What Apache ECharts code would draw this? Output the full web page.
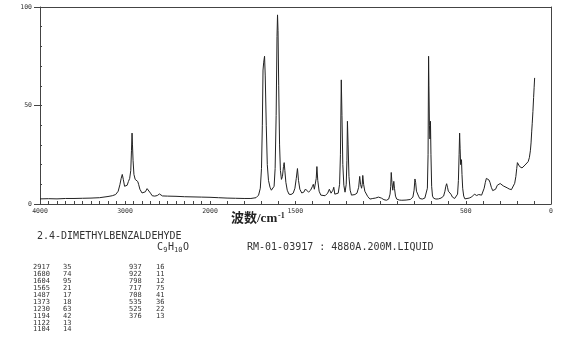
<!DOCTYPE html>
<html>
<head>
<meta charset="utf-8">
<script src="https://cdn.jsdelivr.net/npm/echarts@6/dist/echarts.min.js"></script>
<style>
html,body{margin:0;padding:0;background:#fff;}
#chart{width:570px;height:346px;}
</style>
</head>
<body>
<div id="chart"></div>
<script>
// ---- Data (Raman spectrum) ----
const specWn = [
  4000,3900,3800,3700,3600,3500,3400,3300,3200,3150,3110,3080,3060,3045,3032,3020,3005,2990,2975,2960,
  2945,2932,2924,2917,2912,2905,2895,2880,2860,2850,2840,2825,2800,2780,2760,2740,2730,2720,2700,2680,
  2650,2620,2595,2580,2560,2500,2400,2300,2200,2100,2000,
  1950,1900,1850,1800,1760,1730,1715,1705,1698,1693,1689,1685,1680,1676,1670,1664,1657,1648,1640,1632,
  1624,1618,1612,1607,1604,1601,1597,1592,1587,1581,1575,1569,1565,1561,1555,1547,1537,1525,1512,1502,
  1494,1487,1481,1473,1462,1450,1440,1432,1422,1410,1400,1394,1388,1382,1377,1373,1368,1360,1350,1340,
  1325,1310,1300,1296,1290,1285,1279,1274,1268,1258,1248,1240,1235,1230,1226,1221,1215,1208,1201,1197,
  1194,1190,1185,1178,1170,1160,1150,1138,1128,1122,1117,1111,1107,1104,1099,1092,1085,1075,1062,1045,
  1030,1012,995,980,965,952,944,940,937,933,928,922,918,912,905,890,875,850,825,810,
  803,798,794,789,783,777,770,755,740,730,725,721,718,716,713,710,707,704,700,695,
  688,675,660,645,630,622,617,612,607,602,597,592,587,578,565,555,548,543,539,536,
  533,530,527,525,522,518,512,505,495,480,465,455,449,445,441,436,430,424,418,413,
  407,400,392,385,379,375,370,364,358,350,342,335,325,315,305,298,290,280,270,257,
  245,232,222,213,206,201,197,194,190,184,178,170,162,152,142,134,127,121,117,113,
  110,106,102,99,96
];
const specInt = [
  2.6,2.7,2.6,2.8,2.8,2.9,3.0,3.2,3.8,4.2,4.8,6.5,9.8,13,15,12.5,9,8.1,9.5,11.4,
  13,17,27,36,30,22,15,12.5,11.5,11.4,10,7.5,5.6,5.2,6.2,7.8,8.2,7.5,5.5,4.2,
  4.0,4.3,5.1,5,4.1,4.0,3.9,3.7,3.6,3.5,3.4,
  3.2,3.0,2.9,2.8,2.8,3.2,4.5,8,18,40,68,72,75,65,40,20,12,8.5,7,6.5,
  9,18,45,85,96,88,60,30,17,12.5,14,19,21,17,11,7,5,4.8,5.5,8,
  13,18,12,7.5,5.6,6,7.6,6.8,6,7,8.8,10,7.5,8,13,19,12,6.5,4.5,4,
  4.2,5.5,7.5,8.5,5.5,4.5,7,8.5,5,4,5.5,10,25,63,45,20,9.5,6,10,22,
  42,30,14,7,4.5,4.5,4.8,5.5,8.5,14,10,8,10,14.5,10,6.5,6,3.8,2.5,2.8,
  3.0,3.5,3.0,2.2,1.9,2.5,5,9,16,11,7,11.5,8,4,2.5,2.0,1.9,2.0,2.3,3.5,
  7,12.7,11,6.5,6,4,2.8,2.5,3,3.9,8,25,75,60,40,33,42,25,9,4,
  2.9,2.5,2.6,3,4,6.5,9,10.3,8.5,6.5,6,6.3,5,3.5,2.8,3,5,12,25,36,
  28,20,21,22.5,15,8,4,2.6,2.5,3,3.6,4,5,5.8,5,4.3,4.2,4.8,5.3,5,
  4.5,5.5,8,11,13,13.8,12,12.2,11,8.5,6.8,6.5,7.5,9.5,10.4,10.4,10,9.2,8.6,8.2,
  7.6,7.3,8,10.5,14,18,21,21.6,20.8,19,18.3,18.3,18.8,19.8,20.6,21.5,23.5,27,31,37,
  41,47,54,59,64
];

// axis tick labels
const xLabelsHigh = [4000, 3000, 2000];
const xLabelsLow = [1500, 500, 0];
const yLabels = [0, 50, 100];

// peak table (two columns)
const peakWnA = ['2917','1680','1604','1565','1487','1373','1230','1194','1122','1104'];
const peakIntA = ['35','74','95','21','17','18','63','42','13','14'];
const peakWnB = ['937','922','798','717','708','535','525','376'];
const peakIntB = ['16','11','12','75','41','36','22','13'];

const compoundName = '2.4-DIMETHYLBENZALDEHYDE';
const formulaParts = [['C', false], ['9', true], ['H', false], ['10', true], ['O', false]];
const sampleInfo = 'RM-01-03917 : 4880A.200M.LIQUID';
const axisTitle = '波数/cm';
const axisTitleSup = '-1';

// ---- build series ----
const highPart = [], lowPart = [];
for (let i = 0; i < specWn.length; i++) {
  if (specWn[i] >= 2000) highPart.push([specWn[i], specInt[i]]);
  if (specWn[i] <= 2000) lowPart.push([specWn[i], specInt[i]]);
}

const mono = 'DejaVu Sans Mono';
const axisColor = '#444';
const textColor = '#333';

const chart = echarts.init(document.getElementById('chart'), null, {renderer: 'canvas'});

const graphics = [];
graphics.push({type: 'text', left: 231, top: 212, style: {text: axisTitle, font: 'bold 13px "Liberation Serif", "Noto Sans CJK SC"', fill: '#222'}});
graphics.push({type: 'text', left: 278, top: 212, style: {text: axisTitleSup, font: 'bold 8px "Liberation Serif"', fill: '#222'}});
graphics.push({type: 'text', left: 37, top: 231, style: {text: compoundName, font: '10px ' + mono, fill: textColor}});
let fx = 157;
formulaParts.forEach(p => {
  const sub = p[1];
  graphics.push({type: 'text', left: fx, top: sub ? 247 : 242, style: {text: p[0], font: (sub ? '7px ' : '10px ') + mono, fill: textColor}});
  fx += sub ? p[0].length * 4.2 + 0.5 : 6.2;
});
graphics.push({type: 'text', left: 247, top: 242, style: {text: sampleInfo, font: '10px ' + mono, fill: textColor}});
const rowTop = 264, rowStep = 6.9;
peakWnA.forEach((w, i) => {
  graphics.push({type: 'text', left: 33, top: rowTop + i * rowStep, style: {text: w, font: '7px ' + mono, fill: textColor}});
  graphics.push({type: 'text', left: 63, top: rowTop + i * rowStep, style: {text: peakIntA[i], font: '7px ' + mono, fill: textColor}});
});
peakWnB.forEach((w, i) => {
  graphics.push({type: 'text', left: 129, top: rowTop + i * rowStep, style: {text: w, font: '7px ' + mono, fill: textColor}});
  graphics.push({type: 'text', left: 156, top: rowTop + i * rowStep, style: {text: peakIntB[i], font: '7px ' + mono, fill: textColor}});
});

const lineStyleAxis = {show: true, onZero: false, lineStyle: {color: axisColor, width: 1}};

const option = {
  animation: false,
  backgroundColor: '#fff',
  grid: [
    {left: 40, top: 7, width: 170, height: 197},
    {left: 210, top: 7, width: 341, height: 197}
  ],
  xAxis: [
    {gridIndex: 0, type: 'value', min: 2000, max: 4000, interval: 100, inverse: true, position: 'bottom',
     axisLine: lineStyleAxis, splitLine: {show: false},
     axisTick: {show: true, inside: true, length: 3, lineStyle: {color: axisColor}},
     axisLabel: {show: true, margin: 4, fontSize: 6.5, fontFamily: mono, color: textColor,
       formatter: v => xLabelsHigh.includes(v) ? String(v) : ''}},
    {gridIndex: 1, type: 'value', min: 0, max: 2000, interval: 100, inverse: true, position: 'bottom',
     axisLine: lineStyleAxis, splitLine: {show: false},
     axisTick: {show: true, inside: true, length: 3, lineStyle: {color: axisColor}},
     axisLabel: {show: true, margin: 4, fontSize: 6.5, fontFamily: mono, color: textColor,
       formatter: v => xLabelsLow.includes(v) ? String(v) : ''}},
    {gridIndex: 0, type: 'value', min: 2000, max: 4000, inverse: true, position: 'top',
     axisLine: lineStyleAxis, axisTick: {show: false}, axisLabel: {show: false}, splitLine: {show: false}},
    {gridIndex: 1, type: 'value', min: 0, max: 2000, inverse: true, position: 'top',
     axisLine: lineStyleAxis, axisTick: {show: false}, axisLabel: {show: false}, splitLine: {show: false}}
  ],
  yAxis: [
    {gridIndex: 0, type: 'value', min: 0, max: 100, interval: 50, position: 'left',
     axisLine: lineStyleAxis, splitLine: {show: false},
     axisTick: {show: true, length: 6, lineStyle: {color: axisColor}},
     axisLabel: {show: true, margin: 8, fontSize: 6.5, fontFamily: mono, color: textColor,
       formatter: v => yLabels.includes(v) ? String(v) : ''}},
    {gridIndex: 0, type: 'value', min: 0, max: 100, interval: 10, position: 'left',
     axisLine: {show: false, onZero: false}, splitLine: {show: false}, axisLabel: {show: false},
     axisTick: {show: true, inside: true, length: 2, lineStyle: {color: axisColor}}},
    {gridIndex: 1, type: 'value', min: 0, max: 100, position: 'right',
     axisLine: lineStyleAxis, splitLine: {show: false}, axisLabel: {show: false}, axisTick: {show: false}}
  ],
  series: [
    {type: 'line', xAxisIndex: 0, yAxisIndex: 0, data: highPart, showSymbol: false, symbol: 'none',
     lineStyle: {color: '#222', width: 1}, silent: true},
    {type: 'line', xAxisIndex: 1, yAxisIndex: 2, data: lowPart, showSymbol: false, symbol: 'none',
     lineStyle: {color: '#222', width: 1}, silent: true}
  ],
  graphic: graphics
};
chart.setOption(option);
</script>
</body>
</html>
